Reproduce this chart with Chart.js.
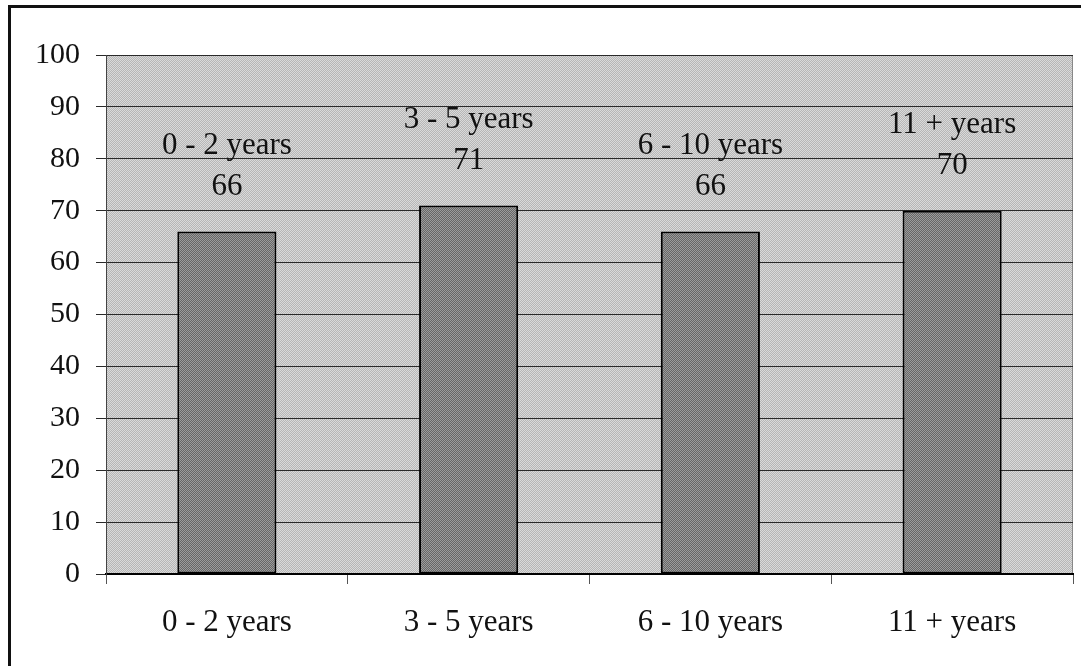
<!DOCTYPE html>
<html>
<head>
<meta charset="utf-8">
<script src="https://cdn.jsdelivr.net/npm/chart.js@4.4.1/dist/chart.umd.min.js"></script>
<style>
  html, body { margin: 0; padding: 0; background: #fff; overflow: hidden; }
  #frame { position: absolute; left: 8px; top: 5px; width: 1200px; height: 800px;
           border-left: 3px solid #111; border-top: 3px solid #111; box-sizing: border-box; }
  #wrap { position: absolute; left: 0; top: 0; width: 1081px; height: 666px; }
</style>
</head>
<body>
<div id="frame"></div>
<div id="wrap"><canvas id="c" width="1081" height="666"></canvas></div>
<script>
const categories = ["0 - 2 years", "3 - 5 years", "6 - 10 years", "11 + years"];
const values = [66, 71, 66, 70];
const yTicks = [0, 10, 20, 30, 40, 50, 60, 70, 80, 90, 100];

function checker(a, b) {
  const p = document.createElement('canvas');
  p.width = 2; p.height = 2;
  const g = p.getContext('2d');
  g.fillStyle = a; g.fillRect(0, 0, 2, 2);
  g.fillStyle = b; g.fillRect(0, 0, 1, 1); g.fillRect(1, 1, 1, 1);
  return g.createPattern(p, 'repeat');
}
const ctx0 = document.getElementById('c').getContext('2d');
const bgPattern = checker('#b6b6b6', '#dadada');
const barPattern = checker('#666666', '#9c9c9c');

const FONT = "'Liberation Serif', 'Times New Roman', serif";

const plotBg = {
  id: 'plotBg',
  beforeDraw(chart) {
    const { ctx, chartArea: a } = chart;
    ctx.save();
    ctx.fillStyle = bgPattern;
    ctx.fillRect(a.left, a.top, a.right - a.left, a.bottom - a.top);
    ctx.strokeStyle = '#888';
    ctx.lineWidth = 1;
    ctx.strokeRect(a.left + 0.5, a.top + 0.5, a.right - a.left - 1, a.bottom - a.top);
    ctx.restore();
  }
};

const barLabels = {
  id: 'barLabels',
  afterDatasetsDraw(chart) {
    const { ctx } = chart;
    const meta = chart.getDatasetMeta(0);
    ctx.save();
    ctx.font = "31px " + FONT;
    ctx.fillStyle = '#111';
    ctx.textAlign = 'center';
    ctx.textBaseline = 'middle';
    meta.data.forEach((bar, i) => {
      ctx.fillText(String(values[i]), bar.x, bar.y - 45);
      ctx.fillText(categories[i], bar.x, bar.y - 86);
    });
    ctx.restore();
  }
};

new Chart(ctx0, {
  type: 'bar',
  data: {
    labels: categories,
    datasets: [{
      data: values,
      backgroundColor: barPattern,
      borderColor: '#000',
      borderWidth: 2,
      borderSkipped: false,
      barPercentage: 0.41,
      categoryPercentage: 1.0
    }]
  },
  options: {
    responsive: false,
    animation: false,
    devicePixelRatio: 1,
    layout: { padding: { left: 0, top: 55, right: 8, bottom: 0 } },
    plugins: { legend: { display: false }, tooltip: { enabled: false } },
    scales: {
      x: {
        grid: { drawOnChartArea: false, drawTicks: true, tickLength: 10, color: '#555', offset: true },
        border: { display: true, color: '#000', width: 2 },
        ticks: { font: { family: FONT, size: 31 }, color: '#111', padding: 20 },
        afterFit(s) { s.height = 92; }
      },
      y: {
        min: 0, max: 100,
        afterBuildTicks(s) { s.ticks = yTicks.map(v => ({ value: v })); },
        grid: { color: '#2a2a2a', lineWidth: 1, tickLength: 10, drawTicks: true },
        border: { display: true, color: '#444', width: 1 },
        ticks: { font: { family: FONT, size: 30 }, color: '#111', padding: 16 },
        afterFit(s) { s.width = 106; }
      }
    }
  },
  plugins: [plotBg, barLabels]
});
</script>
</body>
</html>
